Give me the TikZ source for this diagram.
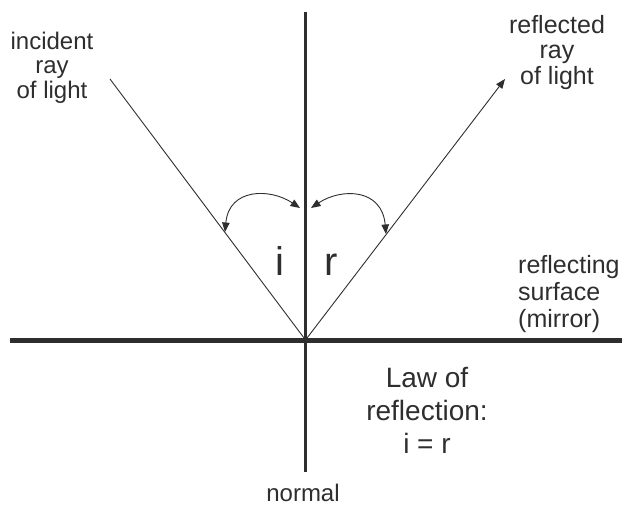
\documentclass[tikz,border=0pt]{standalone}
\usepackage{fontspec}
\setmainfont{Liberation Sans}
\usetikzlibrary{arrows.meta}
\definecolor{ink}{HTML}{2E2E2E}
\begin{document}
\begin{tikzpicture}[x=1pt,y=-1pt,
  thinray/.style={draw=ink,line width=0.9pt},
  tip/.style={-{Triangle[length=9.5pt,width=7.5pt]}},
  both/.style={{Triangle[length=9.5pt,width=7.5pt]}-{Triangle[length=9.5pt,width=7.5pt]}},
  lbl/.style={text=ink,inner sep=0pt,align=center},
]
\useasboundingbox (0,0) rectangle (624,506);
% key points
\coordinate (O) at (305.5,340);
\coordinate (ntop) at (305.5,12);
\coordinate (nbot) at (305.5,472);
\coordinate (mL) at (10,340);
\coordinate (mR) at (622,340);
\coordinate (inc) at (110,79);
\coordinate (refl) at (505,79);
\coordinate (aL) at (225,232);
\coordinate (aN1) at (300,208);
\coordinate (aN2) at (311,208);
\coordinate (aR) at (386,234);
% normal and mirror
\draw[draw=ink,line width=3.3pt] (ntop) -- (nbot);
\draw[draw=ink,line width=5pt] (mL) -- (mR);
% rays
\draw[thinray] (inc) -- (O);
\draw[thinray,tip] (O) -- (refl);
% angle arcs
\draw[thinray,both] (aL) .. controls (229,188) and (270,188) .. (aN1);
\draw[thinray,both] (aN2) .. controls (341,188) and (382,188) .. (aR);
% labels (anchor base = baseline of last line)
\node[lbl,anchor=base,font=\fontsize{24}{24.5}\selectfont] (tinc) at (52,98) {incident\\ray\\of light};
\node[lbl,anchor=base,font=\fontsize{25}{25.5}\selectfont] (tref) at (557,84) {reflected\\ray\\of light};
\node[lbl,align=left,anchor=base west,font=\fontsize{25}{27}\selectfont] (tsurf) at (518,327) {reflecting\\surface\\(mirror)};
\node[lbl,anchor=base,font=\fontsize{28}{33}\selectfont] (tlaw) at (427,453) {Law of\\reflection:\\i = r};
\node[lbl,anchor=base,font=\fontsize{24}{26}\selectfont] (tnorm) at (303,501) {normal};
\node[lbl,anchor=base,font=\fontsize{40}{44}\selectfont] (ti) at (280,275) {i};
\node[lbl,anchor=base,font=\fontsize{40}{44}\selectfont] (tr) at (331,275) {r};
\end{tikzpicture}
\end{document}
